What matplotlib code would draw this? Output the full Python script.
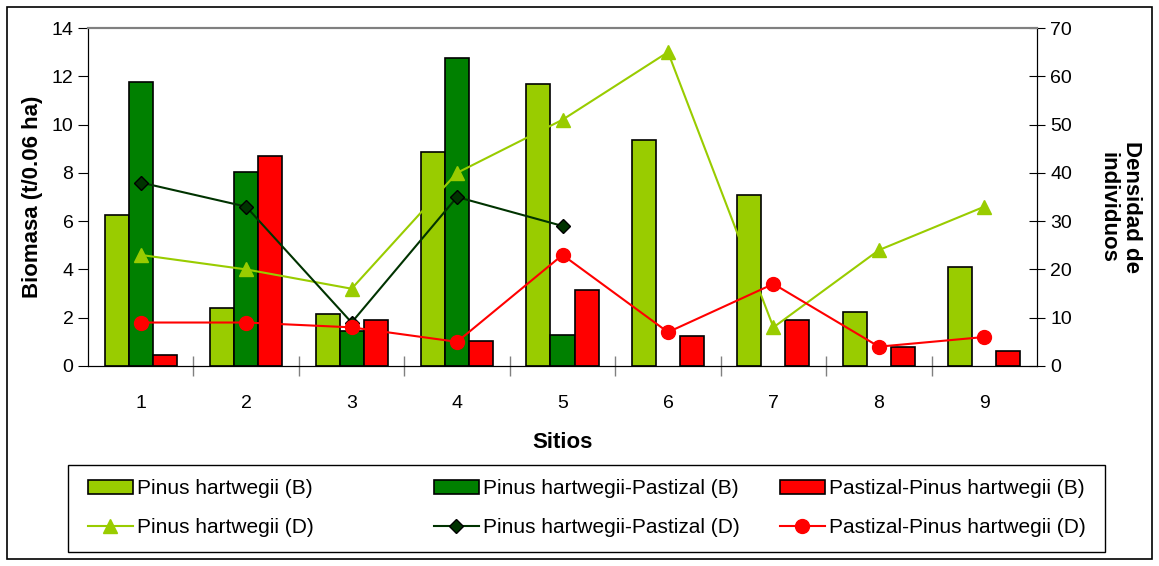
import numpy as np
import matplotlib.pyplot as plt
from matplotlib.patches import Rectangle

plt.rcParams['font.family'] = ['Liberation Sans', 'DejaVu Sans']

sitios = [1, 2, 3, 4, 5, 6, 7, 8, 9]

# biomasa (t/0.06 ha), eje izquierdo
ph_b = [6.25, 2.4, 2.15, 8.85, 11.7, 9.35, 7.1, 2.25, 4.1]
php_b = [11.75, 8.05, 1.45, 12.75, 1.3, None, None, None, None]
pph_b = [0.45, 8.7, 1.9, 1.05, 3.15, 1.25, 1.9, 0.8, 0.6]

# densidad de individuos, eje derecho
ph_d = [23, 20, 16, 40, 51, 65, 8, 24, 33]
php_d = [38, 33, 9, 35, 29, None, None, None, None]
pph_d = [9, 9, 8, 5, 23, 7, 17, 4, 6]

c_light = '#99CC00'
c_dark = '#008000'
c_red = '#FF0000'
c_dline = '#003300'

fig = plt.figure(figsize=(11.59, 5.66), dpi=100)
ax = fig.add_axes([0.0759, 0.3534, 0.8189, 0.5971])
ax2 = ax.twinx()

x = np.arange(len(sitios))
w = 0.228


def keep(vals):
    xs = [x[i] for i, v in enumerate(vals) if v is not None]
    ys = [v for v in vals if v is not None]
    return np.array(xs), ys


b1 = ax.bar(x - w, ph_b, w, color=c_light, edgecolor='black', linewidth=1.2,
            label='Pinus hartwegii (B)')
xs, ys = keep(php_b)
b2 = ax.bar(xs, ys, w, color=c_dark, edgecolor='black', linewidth=1.2,
            label='Pinus hartwegii-Pastizal (B)')
b3 = ax.bar(x + w, pph_b, w, color=c_red, edgecolor='black', linewidth=1.2,
            label='Pastizal-Pinus hartwegii (B)')

l1, = ax2.plot(x, ph_d, color=c_light, lw=1.5, marker='^', ms=10,
               label='Pinus hartwegii (D)')
xs, ys = keep(php_d)
l2, = ax2.plot(xs, ys, color=c_dline, lw=1.5, marker='D', ms=7.5,
               mfc=c_dline, mec='black', label='Pinus hartwegii-Pastizal (D)')
l3, = ax2.plot(x, pph_d, color=c_red, lw=1.5, marker='o', ms=10,
               label='Pastizal-Pinus hartwegii (D)')

ax.set_xlim(-0.5, len(sitios) - 0.5)
ax.set_ylim(0, 14)
ax.set_yticks(range(0, 15, 2))
ax2.set_ylim(0, 70)
ax2.set_yticks(range(0, 71, 10))

ax.set_xticks(x)
ax.set_xticklabels([str(s) for s in sitios])
ax.set_xticks(np.arange(1, len(sitios)) - 0.5, minor=True)
ax.tick_params(axis='x', which='major', length=0, pad=21, labelsize=14)
ax.tick_params(axis='x', which='minor', direction='inout', length=14, width=1,
               color='#808080')
ax.tick_params(axis='y', direction='out', length=7, labelsize=14)
ax2.tick_params(axis='y', direction='inout', length=12, labelsize=14)

for a in (ax, ax2):
    a.spines['top'].set_color('#808080')
    a.spines['top'].set_linewidth(1.5)

ax.set_xlabel('Sitios', fontsize=16, fontweight='bold', labelpad=14)
ax.set_ylabel('Biomasa (t/0.06 ha)', fontsize=16, fontweight='bold', labelpad=6)
ax2.set_ylabel('Densidad de\nindividuos', fontsize=16, fontweight='bold',
               rotation=-90, labelpad=50, linespacing=1.1)
ax2.yaxis.label.set_y(0.47)

# legend: three fixed-width columns inside one box
fig.patches.append(Rectangle((68 / 1159, 1 - 552 / 566), (1105 - 68) / 1159,
                             (552 - 465) / 566, transform=fig.transFigure,
                             fill=False, edgecolor='black', linewidth=1))
columns = [(b1, l1), (b2, l2), (b3, l3)]
col_x = [88, 434, 780]
for (hb, hl), cx in zip(columns, col_x):
    lg = fig.legend(handles=[hb, hl], labels=[hb.get_label(), hl.get_label()],
                    loc='center left', bbox_to_anchor=(cx / 1159, 1 - 508 / 566),
                    fontsize=15, frameon=False, handlelength=2.15,
                    handleheight=0.65, handletextpad=0.2, borderaxespad=0,
                    labelspacing=0.95, borderpad=0)

fig.patches.append(Rectangle((0.006, 0.012), 0.988, 0.976, transform=fig.transFigure,
                             fill=False, edgecolor='black', linewidth=1.2))

fig.savefig('out.png', dpi=100)
